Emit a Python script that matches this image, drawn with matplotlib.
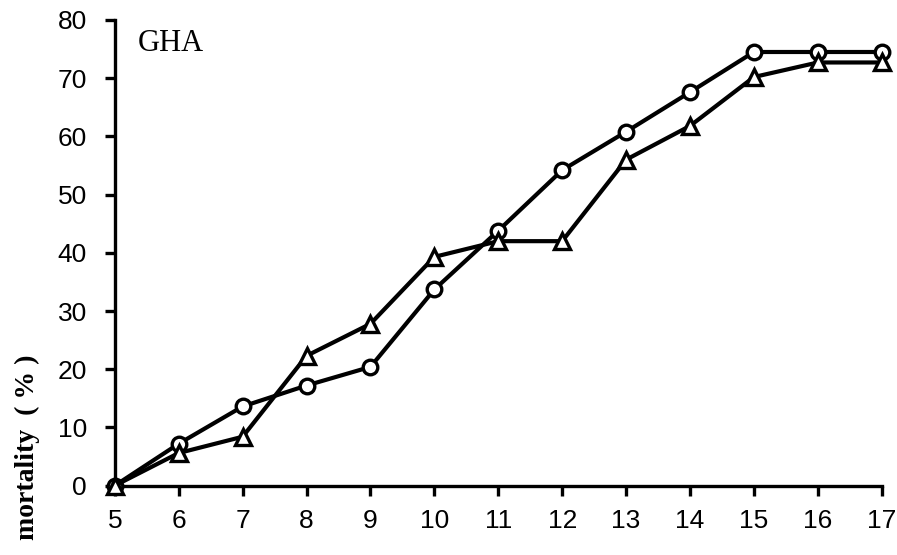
import matplotlib.pyplot as plt

# days and cumulative mortality for the two treatments
days = [5, 6, 7, 8, 9, 10, 11, 12, 13, 14, 15, 16, 17]
mort_circle = [0, 7.2, 13.6, 17.2, 20.4, 33.7, 43.8, 54.2, 60.8, 67.6, 74.5, 74.5, 74.5]
mort_triangle = [0, 5.6, 8.4, 22.3, 27.8, 39.3, 42.0, 42.0, 56.0, 61.8, 70.2, 72.7, 72.7]

y_ticks = [0, 10, 20, 30, 40, 50, 60, 70, 80]

fig = plt.figure(figsize=(8.97, 5.55), dpi=100)
ax = fig.add_axes([0.128, 0.125, 0.855, 0.839])

ax.plot(days, mort_circle, color='black', lw=3, marker='o', ms=10.5,
        mfc='white', mec='black', mew=2.4, clip_on=False, zorder=3)
ax.plot(days, mort_triangle, color='black', lw=3, marker='^', ms=11.5,
        mfc='white', mec='black', mew=2.4, clip_on=False, zorder=4)

ax.set_xlim(5, 17)
ax.set_ylim(0, 80)
ax.set_xticks(days)
ax.set_yticks(y_ticks)

for side in ['top', 'right']:
    ax.spines[side].set_visible(False)
for side in ['left', 'bottom']:
    ax.spines[side].set_linewidth(2.4)

ax.tick_params(direction='out', length=7, width=2.4, labelsize=19, pad=13)
ax.tick_params(axis='x', pad=10)
for lab in ax.get_xticklabels() + ax.get_yticklabels():
    lab.set_family('Liberation Sans')

ax.text(0.03, 0.98, 'GHA', transform=ax.transAxes, fontsize=22,
        family='Liberation Serif', va='top', ha='left')

# y label sits low on the left edge, below the axis midpoint
fig.text(0.031, 0.362, 'mortality  ( % )', rotation=90, fontsize=20,
         family='Liberation Serif', weight='bold', va='top', ha='center')

fig.savefig('out.png', dpi=100)
